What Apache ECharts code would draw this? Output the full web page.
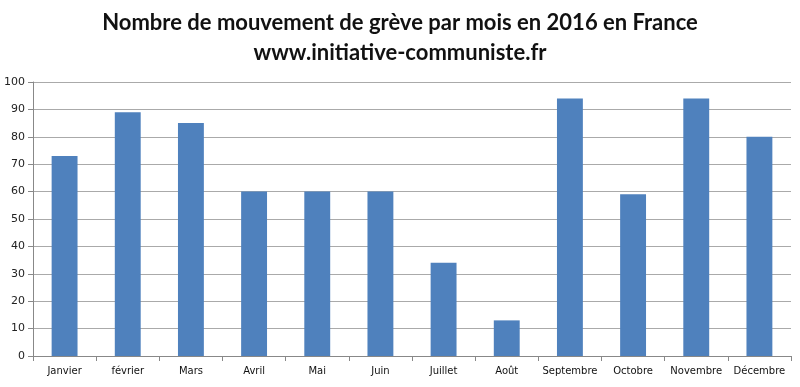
<!DOCTYPE html>
<html><head><meta charset="utf-8">
<script src="https://cdn.jsdelivr.net/npm/echarts@6/dist/echarts.min.js"></script>
<style>html,body{margin:0;padding:0;background:#fff}#c{width:800px;height:387px}</style>
</head><body><div id="c"></div>
<script>
const titleLines = ['Nombre de mouvement de grève par mois en 2016 en France', 'www.initiative-communiste.fr'];
const months = ['Janvier','février','Mars','Avril','Mai','Juin','Juillet','Août','Septembre','Octobre','Novembre','Décembre'];
const strikes = [73, 89, 85, 60, 60, 60, 34, 13, 94, 59, 94, 80];
const yTicks = {min: 0, max: 100, interval: 10};

const chart = echarts.init(document.getElementById('c'), null, {renderer: 'canvas'});
chart.setOption({
  animation: false,
  backgroundColor: '#fff',
  title: {
    text: titleLines.join('\n'),
    left: 'center', top: 3,
    textStyle: {fontFamily: 'Lato', fontWeight: 'bold', fontSize: 22, color: '#111', lineHeight: 30}
  },
  grid: {left: 33, right: 9, top: 82, bottom: 31, containLabel: false},
  xAxis: {
    type: 'category', data: months,
    axisLine: {lineStyle: {color: '#888', width: 1}},
    axisTick: {show: true, alignWithLabel: false, length: 5, lineStyle: {color: '#888'}},
    axisLabel: {color: '#111', fontFamily: 'DejaVu Sans', fontSize: 10, margin: 10, interval: 0}
  },
  yAxis: {
    type: 'value', min: yTicks.min, max: yTicks.max, interval: yTicks.interval,
    axisLine: {show: true, lineStyle: {color: '#888'}},
    axisTick: {show: true, length: 5, lineStyle: {color: '#888'}},
    axisLabel: {color: '#222', fontFamily: 'DejaVu Sans', fontSize: 11, margin: 8},
    splitLine: {lineStyle: {color: '#aaa', width: 1}}
  },
  series: [{
    type: 'bar', data: strikes, barWidth: '41%',
    itemStyle: {color: '#4f81bd'}
  }]
});
</script></body></html>
